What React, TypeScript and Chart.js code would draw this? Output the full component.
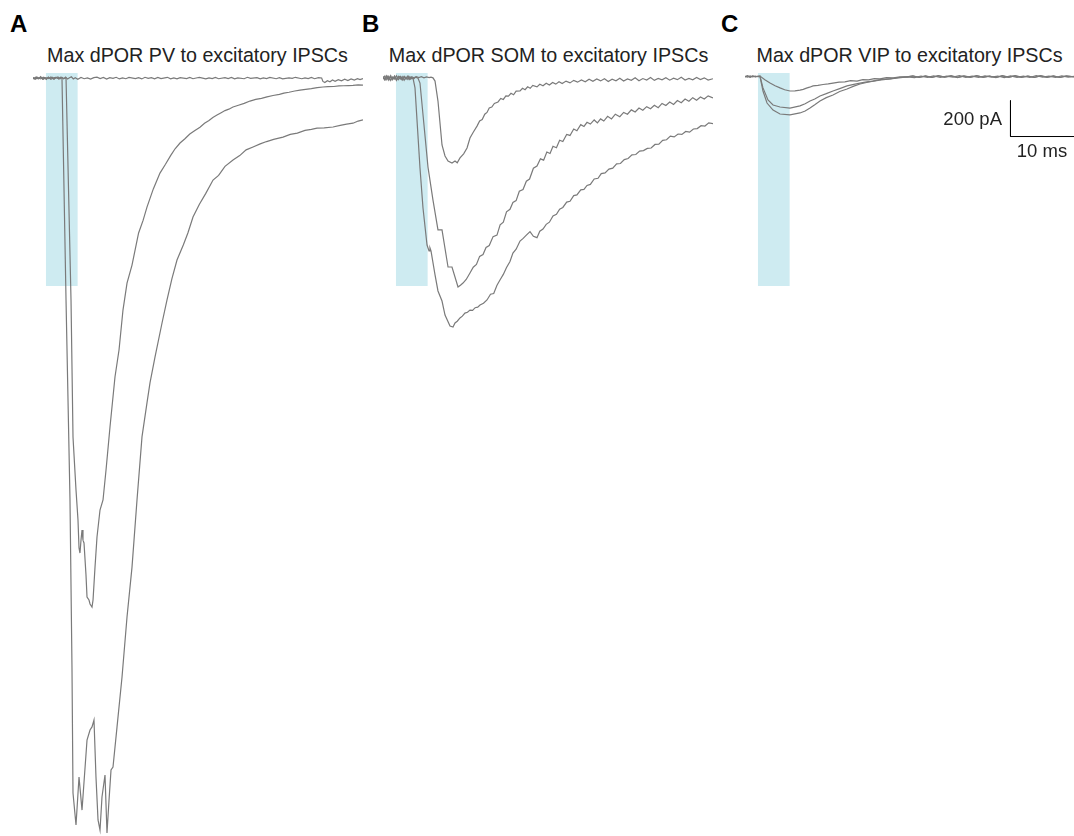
import React, { useEffect, useRef } from "react";
import { Chart, registerables } from "chart.js";

Chart.register(...registerables);

type Pt = [number, number]; // [time in ms, current in pA]

// ---------- text ----------
const PANEL_LETTERS = ["A", "B", "C"];
const PANEL_TITLES = [
  "Max dPOR PV to excitatory IPSCs",
  "Max dPOR SOM to excitatory IPSCs",
  "Max dPOR VIP to excitatory IPSCs",
];
const SCALE_LABEL_Y = "200 pA";
const SCALE_LABEL_X = "10 ms";

// ---------- stimulus window / scale bar (data units) ----------
const LIGHT_TIME: Pt = [2, 7]; // ms
const LIGHT_RANGE: Pt = [29, -1154]; // pA (top, bottom of shaded box)
const SCALE_BAR_ORIGIN: Pt = [41.48, -324]; // ms, pA
const SCALE_BAR_MS = 10;
const SCALE_BAR_PA = 200;

// ---------- panel A : PV ----------
const A_FLAT: Pt[] = [
  [0, 2], [0.3, -6], [0.6, 7], [0.9, -3], [1.2, 8], [1.5, -5], [1.8, 4], [2.1, -7], [2.4, 6], [2.7, -2],
  [3, 5], [3.3, -6], [3.6, 3], [3.9, 7], [4.2, -4], [4.5, 5], [4.8, -3], [5.1, 6], [5.4, -5], [5.7, 2],
  [6, 8], [6.3, -4], [6.6, 3], [7, -6], [7.5, 4], [8, -3], [8.5, 2], [9, -5], [9.5, 3], [10, 6],
  [10.5, -2], [11, 4], [11.5, -5], [12, 3], [12.5, -1], [13, 5], [13.5, -4], [14, 2], [14.5, -3], [15, 4],
  [16, -2], [16.5, 3], [17, -4], [17.5, 5], [18, -1], [18.5, 3], [19, -3], [19.5, 4], [20, -2], [21, 5],
  [21.5, -3], [22, 2], [22.5, -4], [23, 3], [24, -2], [24.5, 4], [25, -3], [25.5, 1], [26, 5], [27, -4],
  [27.5, 2], [28, -2], [28.5, 4], [29, -3], [30, 3], [30.5, -2], [31, 4], [31.5, -4], [32, 2], [33, -3],
  [33.5, 5], [34, -1], [35, 3], [35.5, -4], [36, 2], [36.5, -2], [37, 4], [38, -3], [38.5, 3], [39, -4],
  [40, 2], [40.5, -1], [41, 5], [42, -3], [42.5, 2], [43, -2], [43.5, 4], [44, -3], [44.6, 3], [45.1, 1],
  [45.3, -18], [45.6, -24], [46, -14], [46.4, -20], [46.8, -10], [47.2, -17], [47.7, -8], [48.2, -15],
  [48.7, -6], [49.2, -13], [49.7, -4], [50.2, -10], [50.7, -3], [51.1, -8], [51.56, -2],
];

const A_SMALL: Pt[] = [
  [0, 4], [0.4, -5], [0.8, 3], [1.2, -4], [1.6, 6], [2, -3], [2.4, 4], [2.8, -6], [3.2, 2], [3.6, 5],
  [4, -3], [4.4, 4], [4.8, -2], [5.16, 1],
  [5.94, -1232], [6.25, -1993], [6.72, -2288], [7.03, -2454], [7.19, -2610], [7.34, -2638], [7.5, -2566],
  [7.66, -2510], [7.81, -2566], [7.97, -2582], [8.28, -2760], [8.44, -2882], [8.75, -2899], [8.91, -2921],
  [9.22, -2938], [9.38, -2899], [9.69, -2716], [10.0, -2549], [10.47, -2399], [10.94, -2343], [11.41, -2177],
  [12.03, -1938], [12.81, -1660], [13.44, -1510], [14.06, -1288], [14.69, -1138], [15.47, -1038],
  [16.5, -860], [17.2, -790], [17.81, -716], [18.8, -615], [19.84, -527], [20.7, -478], [21.5, -430],
  [22.2, -392], [22.97, -360], [23.7, -338], [24.5, -310], [25.3, -290], [26.09, -272], [26.8, -250],
  [27.5, -235], [28.1, -218], [28.75, -205], [29.4, -192], [30, -180], [30.6, -172], [31.25, -160],
  [32.1, -150], [33, -140], [33.9, -127], [34.8, -118], [35.7, -112], [36.56, -104], [37.5, -96],
  [38.5, -90], [39.2, -83], [40, -78], [40.9, -71], [41.72, -66], [42.6, -62], [43.5, -58], [44.4, -52],
  [45.31, -49], [46.1, -47], [47, -46], [47.8, -43], [48.5, -42], [49.3, -41], [50, -40], [50.8, -37],
  [51.56, -38],
];

const A_LARGE: Pt[] = [
  [0, -4], [0.4, 6], [0.8, -3], [1.2, 5], [1.6, -6], [2, 3], [2.4, -2], [2.8, 7], [3.2, -5], [3.6, 4],
  [4, -3], [4.3, 5], [4.53, 0],
  [5.16, -1232], [5.78, -2343], [6.09, -3271], [6.25, -3971], [6.72, -4149], [7.19, -3882], [7.66, -4066],
  [8.44, -3677], [8.91, -3621], [9.22, -3604], [9.53, -3566], [9.84, -3882], [10.16, -4121], [10.47, -4177],
  [10.78, -3993], [11.25, -3871], [11.56, -4193], [11.88, -4010], [12.19, -3843], [12.5, -3827],
  [13.13, -3604], [13.91, -3327], [14.69, -2993], [15.47, -2716], [16.25, -2343], [17.03, -1993],
  [17.81, -1804], [18.28, -1693], [19.06, -1549], [20.16, -1360], [20.94, -1232], [21.7, -1115],
  [22.5, -1010], [23.5, -925], [24.2, -860], [25, -771], [26, -700], [27, -640], [28.13, -566],
  [29, -540], [30, -490], [31.25, -454], [32.3, -430], [33.3, -398], [34.38, -382], [35.5, -365],
  [36.5, -352], [37.6, -340], [39.06, -327], [40.2, -312], [41.3, -305], [42.5, -290], [43.5, -284],
  [44.38, -277], [45.5, -276], [46.88, -271], [48, -262], [49, -255], [50, -250], [50.8, -238],
  [51.56, -232],
];

// ---------- panel B : SOM ----------
const B_SMALL: Pt[] = [
  [0, 8], [0.3, -10], [0.6, 12], [0.9, -6], [1.2, 14], [1.5, -8], [1.8, 10], [2.1, -12], [2.4, 6],
  [2.7, 11], [3, -7], [3.3, 9], [3.6, -4], [3.9, 12], [4.2, -6], [4.5, 8], [4.8, 2], [5.2, 9], [5.6, 3],
  [6, 8], [6.4, 2], [6.8, 7], [7.2, 3], [7.5, 6], [7.81, 2],
  [8.13, -16], [8.59, -127], [9.22, -371], [9.69, -432], [10.16, -460], [10.78, -471], [11.25, -460],
  [11.6, -470], [12.03, -443], [12.6, -420], [13.13, -388], [13.59, -332], [14.1, -300], [14.69, -266],
  [15.1, -238], [15.5, -230], [15.9, -200], [16.25, -190], [16.6, -165], [17, -160], [17.4, -140],
  [17.97, -132], [18.4, -112], [18.8, -118], [19.2, -98], [19.6, -100], [20, -84], [20.4, -92], [20.8, -72],
  [21.41, -70], [21.8, -56], [22.2, -64], [22.6, -48], [23, -56], [23.4, -40], [24.06, -48], [24.5, -34],
  [25, -42], [25.5, -28], [26, -38], [26.5, -24], [27, -33], [27.5, -20], [28, -30], [28.6, -16],
  [29.22, -26], [29.8, -12], [30.4, -22], [31, -10], [31.6, -20], [32.2, -6], [32.8, -17], [33.4, -4],
  [34, -15], [34.6, -3], [35.2, -18], [35.8, -6], [36.4, -14], [37, 0], [37.6, -16], [38.2, -4],
  [38.8, -12], [39.4, 2], [40, -14], [40.6, -2], [41.2, -10], [41.8, 4], [42.4, -12], [43, -1],
  [43.6, -9], [44.2, 3], [44.8, -11], [45.4, 0], [46, -8], [46.6, 5], [47.2, -10], [47.8, -1],
  [48.4, -9], [49, 4], [49.6, -8], [50.2, 2], [50.8, -10], [51.56, -3],
];

const B_MEDIUM: Pt[] = [
  [0, -6], [0.3, 12], [0.6, -9], [0.9, 10], [1.2, -12], [1.5, 7], [1.8, -5], [2.1, 13], [2.4, -8],
  [2.7, 6], [3, -10], [3.3, 9], [3.6, -3], [3.9, 11], [4.2, -7], [4.5, 5], [4.8, -4], [5.1, 6],
  [5.47, 0],
  [5.78, -27], [7.03, -494], [7.81, -677], [8.59, -843], [9.22, -843], [10.16, -1049], [10.78, -1049],
  [11.72, -1160], [12.1, -1150], [12.5, -1138], [13.0, -1118], [13.59, -1082], [14.1, -1050],
  [14.6, -1035], [15.1, -990], [15.63, -980], [16.1, -940], [16.6, -930], [17.2, -880], [17.81, -872],
  [18.3, -815], [18.8, -800], [19.3, -742], [19.84, -728], [20.3, -690], [20.8, -680], [21.3, -628],
  [21.88, -618], [22.4, -572], [22.9, -560], [23.5, -500], [24.06, -488], [24.6, -448], [25.1, -455],
  [25.6, -410], [26.1, -418], [26.56, -378], [27.1, -386], [27.6, -345], [28.1, -352], [28.7, -312],
  [29.22, -318], [29.8, -282], [30.3, -292], [30.9, -258], [31.4, -268], [31.88, -245], [32.4, -255],
  [33, -232], [33.5, -248], [34, -226], [34.5, -238], [35.1, -212], [35.7, -226], [36.3, -200],
  [37, -214], [37.6, -190], [38.2, -200], [38.8, -176], [39.4, -188], [40, -166], [40.6, -178],
  [41.2, -158], [41.8, -170], [42.4, -150], [43, -164], [43.6, -140], [44.2, -152], [44.8, -132],
  [45.4, -146], [46, -124], [46.6, -136], [47.2, -116], [47.8, -128], [48.4, -108], [49, -122],
  [49.6, -104], [50.2, -116], [50.8, -98], [51.56, -110],
];

const B_LARGE: Pt[] = [
  [0, 10], [0.3, -8], [0.6, 13], [0.9, -11], [1.2, 7], [1.5, -6], [1.8, 12], [2.1, -9], [2.4, 10],
  [2.7, -5], [3, 9], [3.3, -12], [3.6, 6], [3.9, -7], [4.2, 8], [4.5, -3], [4.69, 0],
  [5.0, -54], [5.78, -499], [6.25, -721], [6.88, -927], [7.19, -960], [7.34, -943], [7.5, -960],
  [8.13, -1093], [8.59, -1182], [9.22, -1238], [9.69, -1316], [10.47, -1377], [10.94, -1382],
  [11.25, -1360], [11.6, -1350], [12.03, -1332], [12.4, -1322], [12.8, -1305], [13.2, -1300],
  [13.59, -1288], [14.0, -1290], [14.4, -1275], [14.8, -1272], [15.16, -1260], [15.7, -1250],
  [16.25, -1232], [16.8, -1200], [17.3, -1196], [17.81, -1150], [18.3, -1120], [18.8, -1090],
  [19.3, -1052], [19.84, -1018], [20.3, -972], [20.8, -950], [21.41, -905], [21.9, -890], [22.4, -872],
  [22.97, -852], [23.5, -878], [24.06, -886], [24.5, -850], [25, -838], [25.5, -812], [26, -800],
  [26.56, -765], [27.1, -756], [27.6, -728], [28.1, -718], [28.7, -688], [29.22, -684], [29.8, -652],
  [30.3, -648], [30.9, -620], [31.4, -618], [31.88, -596], [32.4, -590], [33, -560], [33.6, -556],
  [34.1, -530], [34.7, -526], [35.3, -505], [35.9, -500], [36.5, -476], [37.1, -474], [37.7, -452],
  [38.3, -446], [38.9, -426], [39.5, -424], [40.1, -405], [40.7, -402], [41.3, -390], [41.9, -388],
  [42.5, -368], [43.1, -366], [43.7, -345], [44.3, -342], [44.9, -322], [45.5, -326], [46.1, -310],
  [46.7, -312], [47.3, -296], [47.9, -300], [48.5, -282], [49.1, -280], [49.7, -264], [50.3, -266],
  [50.9, -248], [51.56, -252],
];

// ---------- panel C : VIP ----------
const C_SMALL: Pt[] = [
  [0, 9], [0.4, 14], [0.8, 5], [1.2, 12], [1.6, 7], [2, 11], [2.34, 12],
  [3.1, -8], [3.91, -27], [4.7, -42], [5.47, -54], [6.2, -64], [7.03, -71], [7.8, -70], [8.59, -66],
  [9.1, -62], [9.6, -55], [10.1, -50], [10.63, -43], [11.4, -40], [12.2, -35], [13, -32], [13.75, -27],
  [14.7, -22], [15.6, -20], [16.5, -14], [17.5, -16], [18.4, -8], [19.3, -9], [20.2, -2], [21.09, -4],
  [22.1, 3], [23.2, 2], [24.2, 8], [25.31, 7], [26.3, 12], [27.2, 4], [28.2, 13], [29.2, 5],
  [30.2, 14], [31.2, 6], [32.2, 12], [33.2, 3], [34.2, 13], [35.2, 6], [36.2, 14], [37.2, 5],
  [38.2, 12], [39.2, 4], [40.2, 14], [41.2, 6], [42.2, 13], [43.2, 4], [44.2, 12], [45.2, 5],
  [46.2, 14], [47.2, 6], [48.2, 13], [49.2, 4], [50.2, 12], [51.41, 7],
];

const C_MEDIUM: Pt[] = [
  [0, 7], [0.4, 12], [0.8, 6], [1.2, 13], [1.6, 8], [2, 10], [2.34, 11],
  [2.81, -54], [3.59, -121], [4.38, -149], [5.47, -160], [7.03, -166], [8.59, -154], [9.4, -142],
  [10.16, -127], [10.9, -116], [11.72, -99], [12.7, -86], [13.75, -71], [14.8, -58], [15.94, -43],
  [17, -34], [17.97, -27], [19, -20], [20.0, -16], [21.3, -7], [22.66, -4], [24, 4], [25.31, 7],
  [26.5, 3], [27.5, 12], [28.5, 5], [29.5, 13], [30.5, 4], [31.5, 12], [32.5, 6], [33.5, 14],
  [34.5, 5], [35.5, 12], [36.5, 4], [37.5, 13], [38.5, 6], [39.5, 12], [40.5, 3], [41.5, 13],
  [42.5, 5], [43.5, 12], [44.5, 4], [45.5, 14], [46.5, 6], [47.5, 12], [48.5, 4], [49.5, 13],
  [50.5, 6], [51.41, 10],
];

const C_LARGE: Pt[] = [
  [0, 10], [0.4, 6], [0.8, 13], [1.2, 7], [1.6, 11], [2, 8], [2.34, 10],
  [2.81, -71], [3.44, -138], [4.38, -177], [5.47, -199], [7.03, -204], [8.59, -193], [9.4, -182],
  [10.16, -166], [10.9, -148], [11.72, -127], [12.7, -108], [13.75, -93], [14.8, -74], [15.94, -60],
  [17, -44], [17.97, -32], [19, -24], [20.0, -16], [21.3, -10], [22.66, -4], [24, 2], [25.31, 7],
  [26.2, 13], [27.2, 5], [28.2, 12], [29.2, 4], [30.2, 13], [31.2, 6], [32.2, 14], [33.2, 5],
  [34.2, 12], [35.2, 4], [36.2, 13], [37.2, 6], [38.2, 12], [39.2, 3], [40.2, 13], [41.2, 5],
  [42.2, 14], [43.2, 6], [44.2, 12], [45.2, 4], [46.2, 13], [47.2, 5], [48.2, 12], [49.2, 4],
  [50.2, 13], [51.41, 8],
];

// ---------- layout (page pixels) ----------
const Y_MIN = -4210;
const Y_MAX = 40;
const CANVAS_TOP = 71;
const CANVAS_HEIGHT = 765;
const PX_PER_MS = 6.4;
const TRACE_COLOR = "rgb(122,122,122)";
const LIGHT_COLOR = "rgb(206,235,241)";

type PanelSpec = {
  left: number;
  width: number;
  traces: Pt[][];
  scaleBar?: boolean;
};

const PANELS: PanelSpec[] = [
  { left: 33, width: 330, traces: [A_FLAT, A_SMALL, A_LARGE] },
  { left: 383, width: 330, traces: [B_SMALL, B_MEDIUM, B_LARGE] },
  { left: 745, width: 329, traces: [C_SMALL, C_MEDIUM, C_LARGE], scaleBar: true },
];

const toXY = (pts: Pt[]) => pts.map(([x, y]) => ({ x, y }));

function TracePanel({ spec }: { spec: PanelSpec }) {
  const ref = useRef<HTMLCanvasElement | null>(null);
  useEffect(() => {
    if (!ref.current) return;
    const datasets: any[] = [
      {
        data: toXY([
          [LIGHT_TIME[0], LIGHT_RANGE[0]],
          [LIGHT_TIME[1], LIGHT_RANGE[0]],
        ]),
        borderWidth: 0,
        borderColor: "rgba(0,0,0,0)",
        backgroundColor: LIGHT_COLOR,
        fill: { value: LIGHT_RANGE[1] },
        pointRadius: 0,
        order: 10,
      },
      ...spec.traces.map((t) => ({
        data: toXY(t),
        borderColor: TRACE_COLOR,
        borderWidth: 1.2,
        pointRadius: 0,
        fill: false,
        tension: 0,
        order: 1,
        clip: false,
      })),
    ];
    if (spec.scaleBar) {
      const [sx, sy] = SCALE_BAR_ORIGIN;
      datasets.push({
        data: toXY([
          [sx, sy + SCALE_BAR_PA],
          [sx, sy],
          [sx + SCALE_BAR_MS, sy],
        ]),
        borderColor: "#000",
        borderWidth: 1,
        pointRadius: 0,
        fill: false,
        tension: 0,
        order: 0,
        clip: false,
      });
    }
    const chart = new Chart(ref.current, {
      type: "line",
      data: { datasets },
      options: {
        animation: false,
        responsive: false,
        maintainAspectRatio: false,
        layout: { padding: 0 },
        scales: {
          x: { type: "linear", min: 0, max: spec.width / PX_PER_MS, display: false },
          y: { type: "linear", min: Y_MIN, max: Y_MAX, display: false },
        },
        plugins: {
          legend: { display: false },
          tooltip: { enabled: false },
          title: { display: false },
        },
        events: [],
      },
    });
    return () => chart.destroy();
  }, [spec]);
  return (
    <canvas
      ref={ref}
      width={spec.width}
      height={CANVAS_HEIGHT}
      style={{
        position: "absolute",
        left: spec.left,
        top: CANVAS_TOP,
        width: spec.width,
        height: CANVAS_HEIGHT,
        display: "block",
      }}
    />
  );
}

const FONT = '"Liberation Sans", Arial, Helvetica, sans-serif';
const TITLE_CENTERS = [197.5, 548.5, 909.5];
const LETTER_LEFTS = [10, 362, 721];

export default function App() {
  return (
    <div
      style={{
        position: "absolute",
        left: 0,
        top: 0,
        width: 1074,
        height: 836,
        overflow: "hidden",
        background: "#fff",
        fontFamily: FONT,
      }}
    >
      {PANELS.map((p, i) => (
        <TracePanel key={i} spec={p} />
      ))}
      {PANEL_LETTERS.map((l, i) => (
        <div
          key={"l" + i}
          style={{
            position: "absolute",
            left: LETTER_LEFTS[i],
            top: 12,
            fontSize: 24,
            lineHeight: "24px",
            fontWeight: 700,
            color: "#000",
          }}
        >
          {l}
        </div>
      ))}
      {PANEL_TITLES.map((t, i) => (
        <div
          key={"t" + i}
          style={{
            position: "absolute",
            left: TITLE_CENTERS[i],
            top: 45,
            transform: "translateX(-50%)",
            fontSize: 19.7,
            lineHeight: "20px",
            color: "#222",
            whiteSpace: "nowrap",
          }}
        >
          {t}
        </div>
      ))}
      <div
        style={{
          position: "absolute",
          left: 1002,
          top: 108.6,
          transform: "translateX(-100%)",
          fontSize: 18.5,
          lineHeight: "20px",
          color: "#222",
          whiteSpace: "nowrap",
        }}
      >
        {SCALE_LABEL_Y}
      </div>
      <div
        style={{
          position: "absolute",
          left: 1042,
          top: 140.6,
          transform: "translateX(-50%)",
          fontSize: 18.5,
          lineHeight: "20px",
          color: "#222",
          whiteSpace: "nowrap",
        }}
      >
        {SCALE_LABEL_X}
      </div>
    </div>
  );
}
